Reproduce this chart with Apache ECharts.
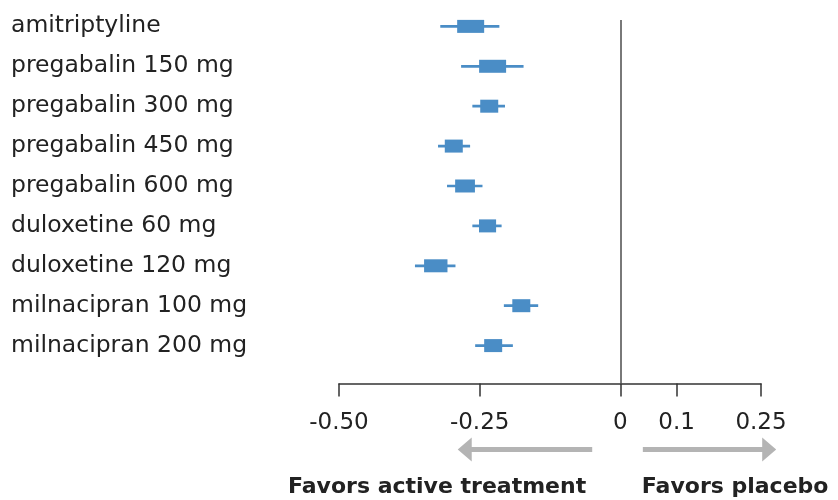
<!DOCTYPE html>
<html>
<head>
<meta charset="utf-8">
<script src="https://cdn.jsdelivr.net/npm/echarts@6/dist/echarts.min.js"></script>
<style>
html,body{margin:0;padding:0;background:#fff;}
#chart{width:838px;height:500px;}
</style>
</head>
<body>
<div id="chart"></div>
<script>
const labels = ['amitriptyline','pregabalin 150 mg','pregabalin 300 mg','pregabalin 450 mg','pregabalin 600 mg','duloxetine 60 mg','duloxetine 120 mg','milnacipran 100 mg','milnacipran 200 mg'];
const means = [-0.266,-0.227,-0.233,-0.296,-0.276,-0.236,-0.328,-0.176,-0.226];
const lows  = [-0.320,-0.283,-0.263,-0.324,-0.308,-0.263,-0.365,-0.207,-0.258];
const highs = [-0.215,-0.172,-0.205,-0.267,-0.245,-0.211,-0.293,-0.146,-0.191];
const weights = [1.5,1.5,1.0,1.0,1.1,0.95,1.3,1.0,1.0];
const tickValues = [-0.5,-0.25,0,0.1,0.25];
const tickLabels = ['-0.50','-0.25','0','0.1','0.25'];
const arrowLeft = [-0.05,-0.289];
const arrowRight = [0.04,0.277];
const directionLabels = ['Favors active treatment','Favors placebo'];

const BLUE = '#4a8dc6';
const FONT = 'DejaVu Sans';
const chart = echarts.init(document.getElementById('chart'), null, {renderer:'canvas'});
const rowIdx = labels.map((_, i) => i);

const option = {
  animation: false,
  backgroundColor: '#fff',
  grid: {left: 339, width: 422, top: 20, bottom: 116.5, containLabel: false},
  xAxis: {
    type: 'value', min: -0.5, max: 0.25, position: 'bottom',
    splitLine: {show: false},
    axisLine: {show: true, onZero: false, lineStyle: {color: '#333', width: 1.5}},
    axisTick: {show: true, customValues: tickValues, length: 13, lineStyle: {color: '#333', width: 1.5}},
    axisLabel: {
      customValues: tickValues, margin: 28,
      fontFamily: FONT, fontSize: 23, color: '#222',
      formatter: v => { const k = tickValues.findIndex(t => Math.abs(t - v) < 1e-9); return k >= 0 ? tickLabels[k] : ''; }
    }
  },
  yAxis: {
    type: 'value', inverse: true, min: -0.16, max: 8.95,
    splitLine: {show: false}, axisLine: {show: false}, axisTick: {show: false},
    axisLabel: {
      customValues: rowIdx, align: 'left', margin: 328,
      fontFamily: FONT, fontSize: 23.5, color: '#222',
      formatter: v => labels[Math.round(v)] || ''
    }
  },
  series: [{
    type: 'custom',
    data: labels.map((_, i) => [i, means[i], lows[i], highs[i], weights[i]]),
    encode: {x: [1, 2, 3], y: 0},
    renderItem: function (params, api) {
      const c = api.coord([api.value(1), api.value(0)]);
      const lo = api.coord([api.value(2), api.value(0)]);
      const hi = api.coord([api.value(3), api.value(0)]);
      const w = api.value(4) * 18;
      return {
        type: 'group',
        children: [
          {type: 'line', shape: {x1: lo[0], y1: lo[1], x2: hi[0], y2: hi[1]}, style: {stroke: BLUE, lineWidth: 2.7}},
          {type: 'rect', shape: {x: c[0] - w / 2, y: c[1] - 6.5, width: w, height: 13}, style: {fill: BLUE}}
        ]
      };
    },
    markLine: {
      silent: true, symbol: ['none', 'none'], label: {show: false},
      lineStyle: {color: '#4d4d4d', width: 1.5, type: 'solid'},
      data: [{xAxis: 0}]
    }
  }]
};
chart.setOption(option);

function arrow(x0, x1, y, color) {
  const dir = x1 > x0 ? 1 : -1;
  const headLen = 14, headHalf = 12, shaftHalf = 2.4;
  const xb = x1 - dir * headLen;
  return {
    type: 'polygon', silent: true,
    shape: {points: [[x0, y - shaftHalf], [xb, y - shaftHalf], [xb, y - headHalf], [x1, y], [xb, y + headHalf], [xb, y + shaftHalf], [x0, y + shaftHalf]]},
    style: {fill: color}
  };
}
const px = v => chart.convertToPixel({xAxisIndex: 0}, v);
const arrowY = 449.5, textY = 487;
const GREY = '#b4b4b4';
chart.setOption({
  graphic: [
    arrow(px(arrowLeft[0]), px(arrowLeft[1]), arrowY, GREY),
    arrow(px(arrowRight[0]), px(arrowRight[1]), arrowY, GREY),
    {type: 'text', silent: true, x: px(arrowLeft[0]) - 6, y: textY,
     style: {text: directionLabels[0], align: 'right', verticalAlign: 'middle', font: 'bold 22px "DejaVu Sans"', fill: '#222'}},
    {type: 'text', silent: true, x: px(arrowRight[0]) - 1, y: textY,
     style: {text: directionLabels[1], align: 'left', verticalAlign: 'middle', font: 'bold 22px "DejaVu Sans"', fill: '#222'}}
  ]
});
</script>
</body>
</html>
